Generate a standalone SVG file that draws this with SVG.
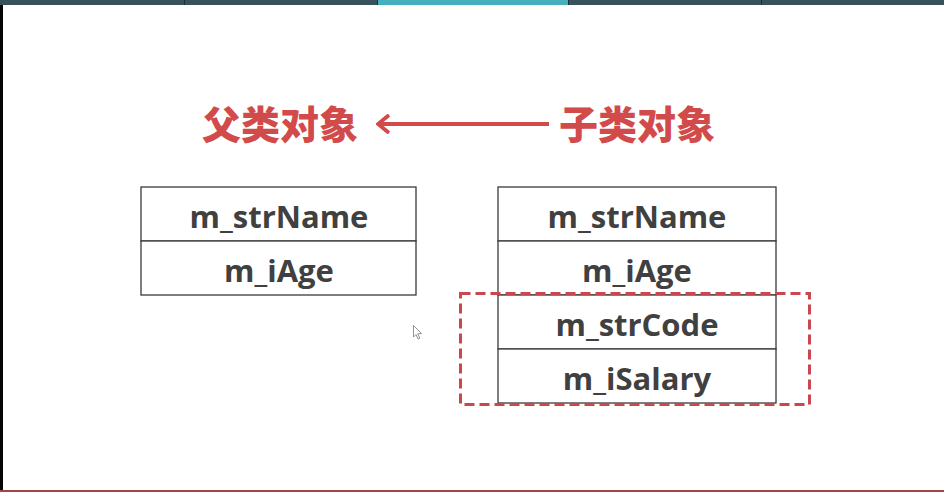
<svg xmlns="http://www.w3.org/2000/svg" width="944" height="492" viewBox="0 0 944 492">
<style>
.cell{fill:#ffffff;stroke:#3a3a3a;stroke-width:1.3}
.field{font-family:"Open Sans","Noto Sans",sans-serif;font-weight:bold;font-size:31px;fill:#404040;text-anchor:middle}
.title{font-family:"Noto Sans CJK SC",sans-serif;font-weight:900;font-size:39px;fill:#d24b4b;text-anchor:middle}
</style>
<defs>
<marker id="chev" viewBox="0 0 14 20" refX="12" refY="10" markerWidth="14" markerHeight="20" markerUnits="userSpaceOnUse" orient="auto">
<path d="M1 1 L12 10 L1 19" fill="none" stroke="#d24b4b" stroke-width="3.8"/>
</marker>
</defs>
<rect x="0" y="0" width="944" height="492" fill="#ffffff"/>
<g id="frame">
<rect x="0" y="0" width="944" height="5" fill="#37525a"/>
<rect x="378" y="0" width="190" height="5" fill="#45afbd"/>
<rect x="184" y="0" width="1" height="5" fill="#1e2e33"/>
<rect x="377" y="0" width="1" height="5" fill="#1e2e33"/>
<rect x="568" y="0" width="1" height="5" fill="#1e2e33"/>
<rect x="761" y="0" width="1" height="5" fill="#1e2e33"/>
<rect x="0" y="5" width="3" height="487" fill="#050505"/>
<rect x="0" y="490" width="944" height="2" fill="#a8414c"/>
</g>
<g id="parent-title"><text class="title" x="280" y="139">父类对象</text></g>
<g id="child-title"><text class="title" x="637" y="139">子类对象</text></g>
<g id="connectors">
<line x1="549" y1="124" x2="378" y2="124" stroke="#d24b4b" stroke-width="3.8" marker-end="url(#chev)"/>
</g>
<g id="parent-object">
<rect class="cell" x="141" y="187" width="275" height="54"/>
<rect class="cell" x="141" y="241" width="275" height="54"/>
<text class="field" x="279" y="228">m_strName</text>
<text class="field" x="279" y="282">m_iAge</text>
</g>
<g id="child-object">
<rect class="cell" x="498" y="187" width="278" height="54"/>
<rect class="cell" x="498" y="241" width="278" height="54"/>
<rect class="cell" x="498" y="295" width="278" height="54"/>
<rect class="cell" x="498" y="349" width="278" height="54"/>
<text class="field" x="637" y="228">m_strName</text>
<text class="field" x="637" y="282">m_iAge</text>
<text class="field" x="637" y="336">m_strCode</text>
<text class="field" x="637" y="390">m_iSalary</text>
</g>
<g id="extra-fields-highlight">
<rect x="460.5" y="293.5" width="349" height="111" fill="none" stroke="#c9474f" stroke-width="3" stroke-dasharray="10,5"/>
</g>
<g id="cursor">
<path d="M413.5 325.5 L413.5 337 L416 334.5 L418 339 L419.8 338.2 L417.8 333.8 L421.5 333.5 Z" fill="#ffffff" stroke="#777777" stroke-width="0.8"/>
</g>
</svg>
